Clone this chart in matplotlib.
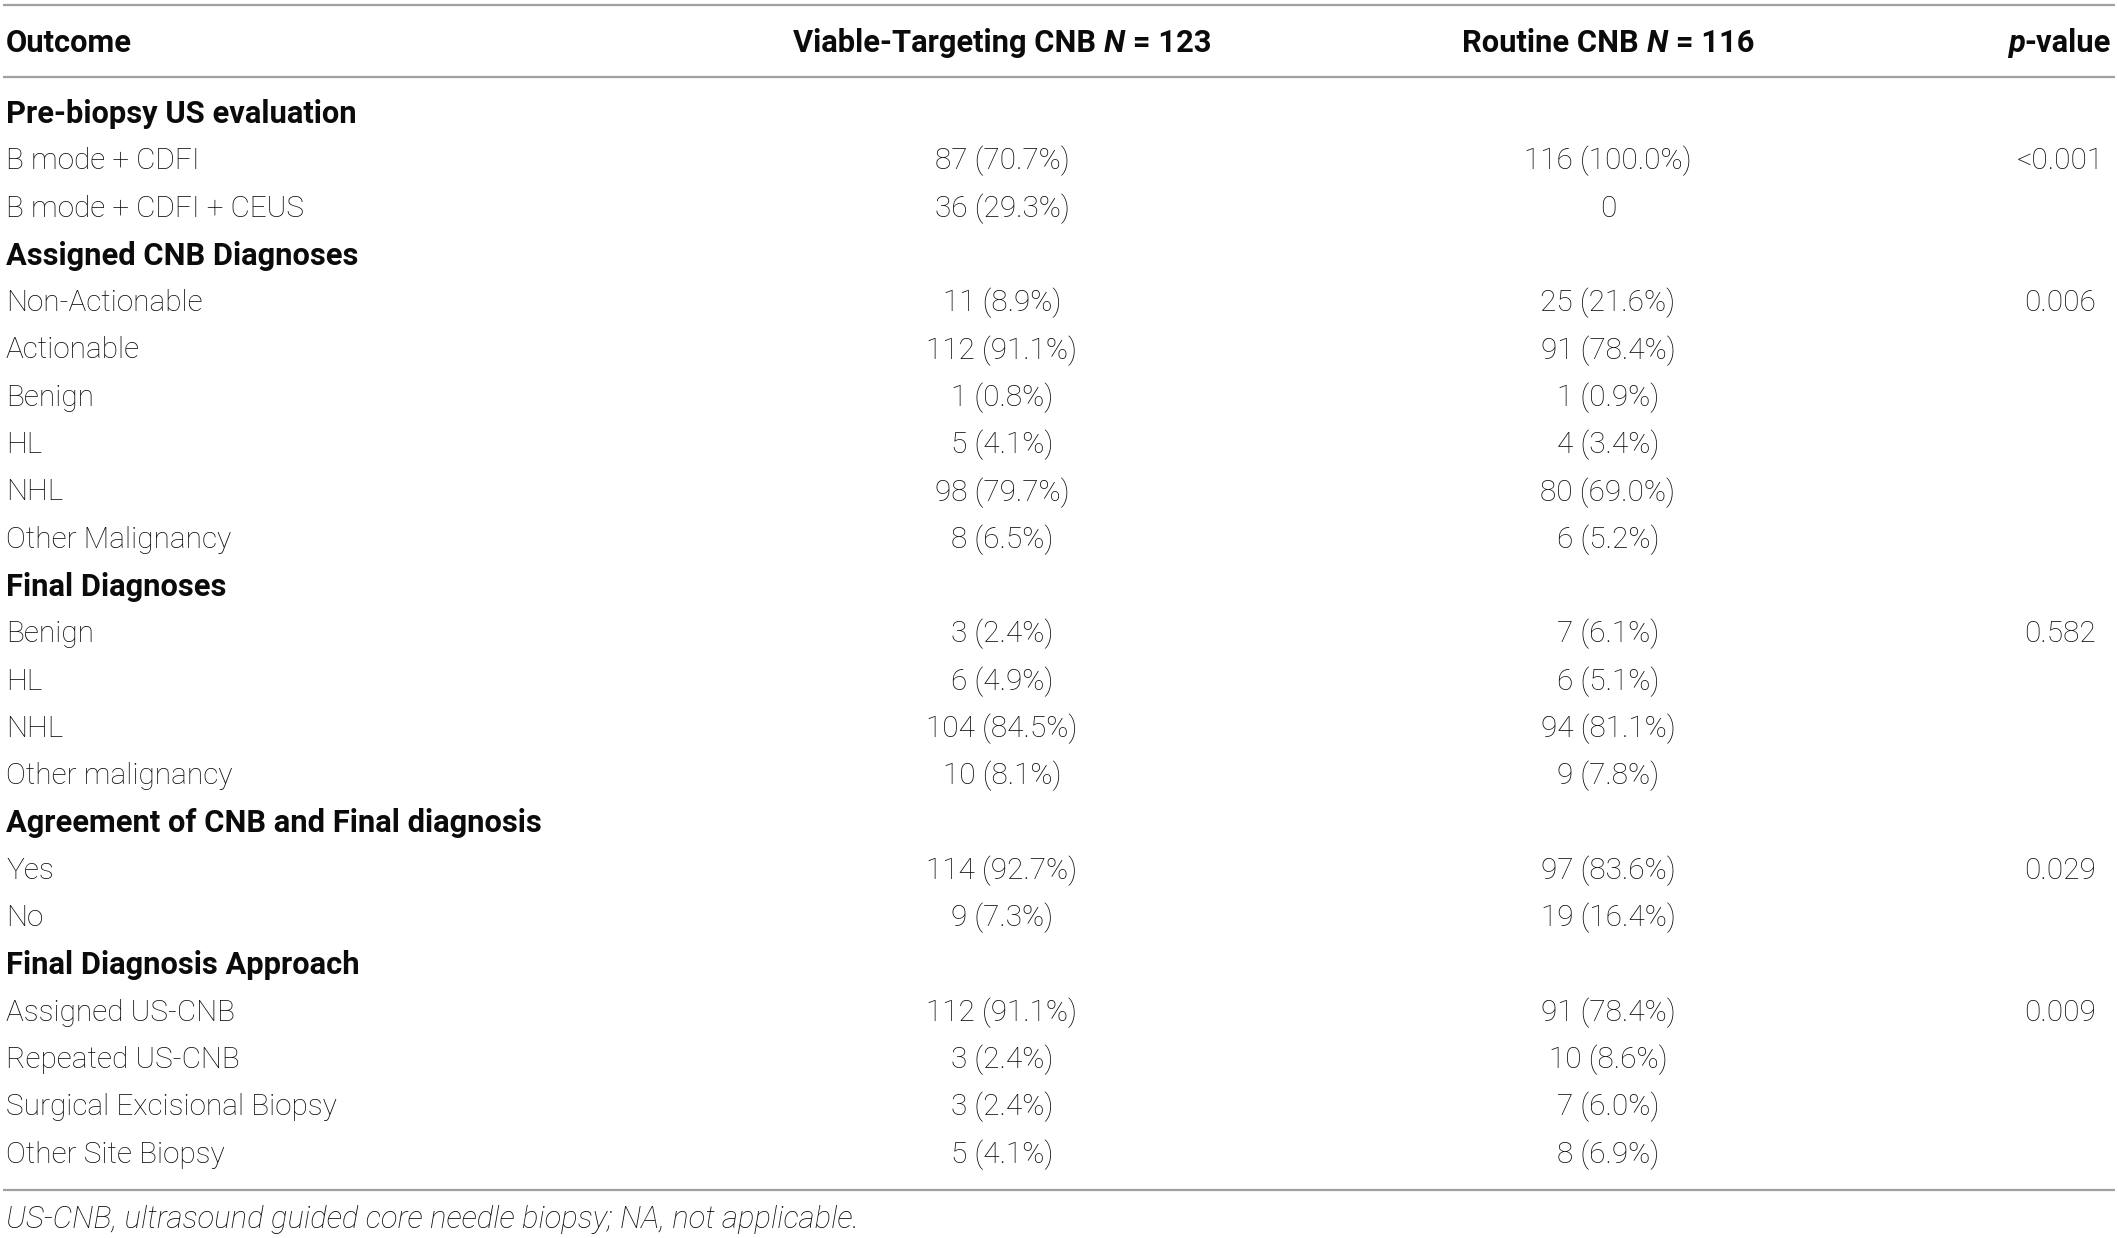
import matplotlib
matplotlib.use('Agg')
from matplotlib import pyplot as plt

# table content
outcomes = ['Pre-biopsy US evaluation', 'B mode + CDFI', 'B mode + CDFI + CEUS',
            'Assigned CNB Diagnoses', 'Non-Actionable', 'Actionable', 'Benign', 'HL', 'NHL',
            'Other Malignancy', 'Final Diagnoses', 'Benign', 'HL', 'NHL', 'Other malignancy',
            'Agreement of CNB and Final diagnosis', 'Yes', 'No', 'Final Diagnosis Approach',
            'Assigned US-CNB', 'Repeated US-CNB', 'Surgical Excisional Biopsy', 'Other Site Biopsy']
is_section = [True, False, False, True, False, False, False, False, False, False, True,
              False, False, False, False, True, False, False, True, False, False, False, False]
viable = ['', '87 (70.7%)', '36 (29.3%)', '', '11 (8.9%)', '112 (91.1%)', '1 (0.8%)',
          '5 (4.1%)', '98 (79.7%)', '8 (6.5%)', '', '3 (2.4%)', '6 (4.9%)', '104 (84.5%)',
          '10 (8.1%)', '', '114 (92.7%)', '9 (7.3%)', '', '112 (91.1%)', '3 (2.4%)',
          '3 (2.4%)', '5 (4.1%)']
routine = ['', '116 (100.0%)', '0', '', '25 (21.6%)', '91 (78.4%)', '1 (0.9%)', '4 (3.4%)',
           '80 (69.0%)', '6 (5.2%)', '', '7 (6.1%)', '6 (5.1%)', '94 (81.1%)', '9 (7.8%)',
           '', '97 (83.6%)', '19 (16.4%)', '', '91 (78.4%)', '10 (8.6%)', '7 (6.0%)',
           '8 (6.9%)']
pvalues = ['', '<0.001', '', '', '0.006', '', '', '', '', '', '', '0.582', '', '', '',
           '', '0.029', '', '', '0.009', '', '', '']
footnote = 'US-CNB, ultrasound guided core needle biopsy; NA, not applicable.'

W, H = 2118, 1238
FONT = 'Roboto'
FS_BODY = 21.4
FS_BOLD = 22.2
FS_NOTE = 22.3
TXT = '#0c0a0b'
LINE = '#a0a0a0'


def measure(ax, renderer, s, fs, **kw):
    t = ax.text(0, 0, s, fontsize=fs, family=FONT, **kw)
    w = t.get_window_extent(renderer).width
    t.remove()
    return w


def draw_runs(ax, renderer, x, y, runs, ha='center'):
    # runs: list of (text, weight, style)
    widths = [measure(ax, renderer, s, FS_BOLD, fontweight=wt, fontstyle=st) for s, wt, st in runs]
    total = sum(widths)
    if ha == 'center':
        x0 = x - total / 2
    elif ha == 'right':
        x0 = x - total
    else:
        x0 = x
    for (s, wt, st), w in zip(runs, widths):
        ax.text(x0, y, s, fontsize=FS_BOLD, family=FONT, fontweight=wt, fontstyle=st,
                color=TXT, ha='left', va='center')
        x0 += w


def main():
    fig = plt.figure(figsize=(W / 100, H / 100), dpi=100)
    ax = fig.add_axes([0, 0, 1, 1])
    ax.set_xlim(0, W)
    ax.set_ylim(H, 0)
    ax.axis('off')
    renderer = fig.canvas.get_renderer()

    x_out, x_v, x_r, x_p = 6, 1002, 1608, 2060
    y_head = 43
    y0, pitch = 114, 47.3

    # rules
    for yl in (5, 77, 1190):
        ax.plot([3, W - 3], [yl, yl], color=LINE, lw=1.6, solid_capstyle='butt')

    # header
    ax.text(x_out, y_head, 'Outcome', fontsize=FS_BOLD, family=FONT, fontweight='bold',
            color=TXT, ha='left', va='center')
    draw_runs(ax, renderer, x_v, y_head,
              [('Viable-Targeting CNB', 'bold', 'normal'), (' ', 'bold', 'normal'),
               ('N', 'bold', 'italic'), (' = 123', 'bold', 'normal')])
    draw_runs(ax, renderer, x_r, y_head,
              [('Routine CNB', 'bold', 'normal'), (' ', 'bold', 'normal'),
               ('N', 'bold', 'italic'), (' = 116', 'bold', 'normal')])
    draw_runs(ax, renderer, 2111, y_head,
              [('p', 'bold', 'italic'), ('-value', 'bold', 'normal')], ha='right')

    for i, name in enumerate(outcomes):
        y = y0 + i * pitch
        if is_section[i]:
            ax.text(x_out, y, name, fontsize=FS_BOLD, family=FONT, fontweight='bold',
                    color=TXT, ha='left', va='center')
            continue
        ax.text(x_out, y, name, fontsize=FS_BODY, family=FONT, fontweight='light',
                color=TXT, ha='left', va='center')
        ax.text(x_v, y, viable[i], fontsize=FS_BODY, family=FONT, fontweight='light',
                color=TXT, ha='center', va='center')
        ax.text(x_r, y, routine[i], fontsize=FS_BODY, family=FONT, fontweight='light',
                color=TXT, ha='center', va='center')
        if pvalues[i]:
            ax.text(x_p, y, pvalues[i], fontsize=FS_BODY, family=FONT, fontweight='light',
                    color=TXT, ha='center', va='center')

    ax.text(x_out, 1219, footnote, fontsize=FS_NOTE, family=FONT, fontweight='light',
            fontstyle='italic', color=TXT, ha='left', va='center')

    fig.savefig('out.png', dpi=100)


if __name__ == '__main__':
    main()
